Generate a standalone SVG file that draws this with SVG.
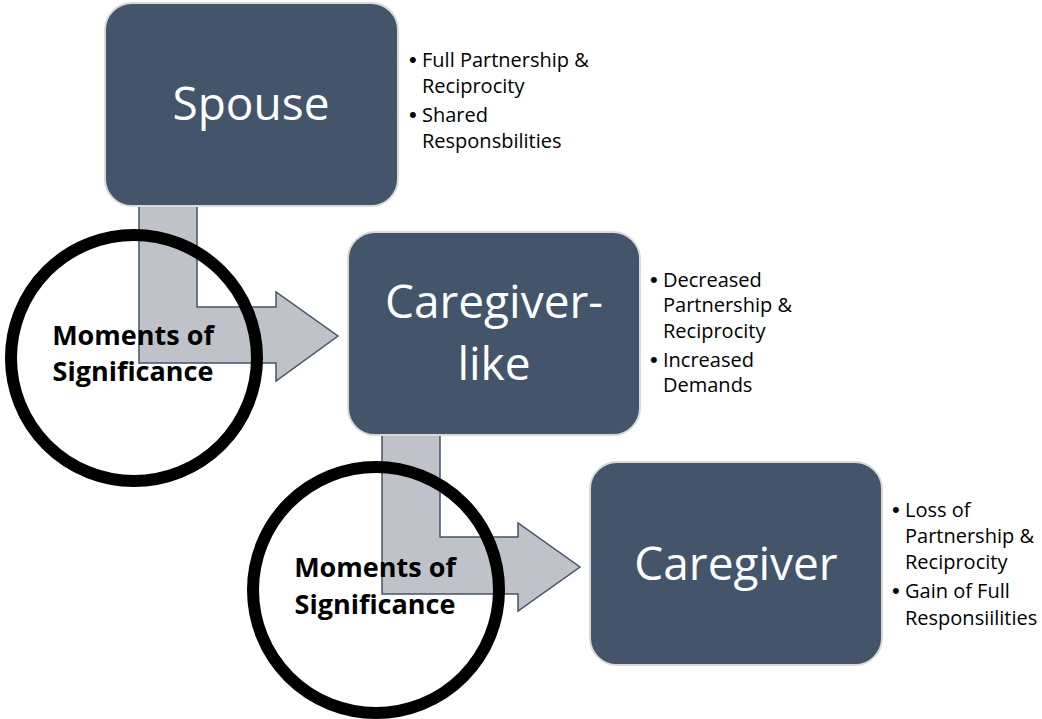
<svg xmlns="http://www.w3.org/2000/svg" width="1042" height="719" viewBox="0 0 1042 719">
  <style>
    .box { fill: #44546A; stroke: #D9D9D9; stroke-width: 2; }
    .title { font-family: "Open Sans", "Noto Sans", sans-serif; font-size: 46px; fill: #FFFFFF; text-anchor: middle; }
    .bul { font-family: "Open Sans", "Noto Sans", sans-serif; font-size: 20px; fill: #000000; }
    .dot { font-family: "Liberation Sans", sans-serif; font-size: 22px; }
    .arrow { fill: #BFC3C9; stroke: #44546A; stroke-width: 1.5; stroke-linejoin: miter; }
    .ring { fill: none; stroke: #000000; stroke-width: 12; }
    .mom { font-family: "Open Sans", "Noto Sans", sans-serif; font-size: 27px; font-weight: bold; fill: #000000; text-anchor: middle; }
  </style>
  <rect width="1042" height="719" fill="#FFFFFF"/>
  <g id="connectors">
    <path class="arrow" d="M139,204 L197,204 L197,307 L276,307 L276,292 L338,336 L276,381 L276,363 L139,363 Z"/>
    <path class="arrow" d="M382,434 L440,434 L440,537 L518,537 L518,523 L580,567 L518,611 L518,594 L382,594 Z"/>
  </g>
  <g id="spouse">
    <rect class="box" x="105" y="3" width="293" height="203" rx="27" ry="27"/>
    <text class="title" x="251" y="120">Spouse</text>
    <text class="bul"><tspan class="dot" x="409" y="67">•</tspan><tspan x="422" y="67">Full Partnership &amp;</tspan><tspan x="422" y="93">Reciprocity</tspan><tspan class="dot" x="409" y="122">•</tspan><tspan x="422" y="122">Shared</tspan><tspan x="422" y="148">Responsbilities</tspan></text>
  </g>
  <g id="caregiver-like">
    <rect class="box" x="348" y="232" width="292" height="203" rx="27" ry="27"/>
    <text class="title" x="494" y="318">Caregiver-</text>
    <text class="title" x="494" y="380">like</text>
    <text class="bul"><tspan class="dot" x="650" y="287">•</tspan><tspan x="663" y="287">Decreased</tspan><tspan x="663" y="312">Partnership &amp;</tspan><tspan x="663" y="338">Reciprocity</tspan><tspan class="dot" x="650" y="367">•</tspan><tspan x="663" y="367">Increased</tspan><tspan x="663" y="392">Demands</tspan></text>
  </g>
  <g id="caregiver">
    <rect class="box" x="590" y="462" width="292" height="203" rx="27" ry="27"/>
    <text class="title" x="736" y="580">Caregiver</text>
    <text class="bul"><tspan class="dot" x="892" y="517">•</tspan><tspan x="905" y="517">Loss of</tspan><tspan x="905" y="543">Partnership &amp;</tspan><tspan x="905" y="569">Reciprocity</tspan><tspan class="dot" x="892" y="598">•</tspan><tspan x="905" y="598">Gain of Full</tspan><tspan x="905" y="625">Responsiilities</tspan></text>
  </g>
  <g id="moments-1">
    <circle class="ring" cx="134" cy="358" r="123"/>
    <text class="mom" x="133" y="345">Moments of</text>
    <text class="mom" x="133" y="381">Significance</text>
  </g>
  <g id="moments-2">
    <circle class="ring" cx="376" cy="590" r="123"/>
    <text class="mom" x="375" y="577">Moments of</text>
    <text class="mom" x="375" y="614">Significance</text>
  </g>
</svg>
